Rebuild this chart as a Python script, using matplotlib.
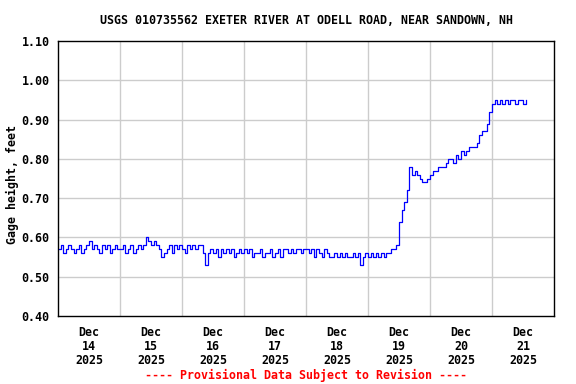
import matplotlib
matplotlib.use("Agg")
import matplotlib.pyplot as plt
import datetime as dt

# hourly gage height readings (feet), starting Dec 14 00:00
dec14 = [0.57, 0.58, 0.56, 0.57, 0.58, 0.57, 0.56, 0.57, 0.58, 0.56, 0.57, 0.58,
         0.59, 0.57, 0.58, 0.57, 0.56, 0.58, 0.57, 0.58, 0.56, 0.57, 0.58, 0.57]
dec15 = [0.57, 0.58, 0.56, 0.57, 0.58, 0.56, 0.57, 0.58, 0.57, 0.58, 0.60, 0.59,
         0.58, 0.59, 0.58, 0.57, 0.55, 0.56, 0.57, 0.58, 0.56, 0.58, 0.57, 0.58]
dec16 = [0.57, 0.56, 0.58, 0.57, 0.58, 0.57, 0.58, 0.58, 0.56, 0.53, 0.56, 0.57,
         0.56, 0.57, 0.55, 0.57, 0.56, 0.57, 0.56, 0.57, 0.55, 0.56, 0.57, 0.56]
dec17 = [0.57, 0.56, 0.57, 0.55, 0.56, 0.56, 0.57, 0.55, 0.56, 0.56, 0.57, 0.55,
         0.56, 0.57, 0.55, 0.57, 0.57, 0.56, 0.57, 0.56, 0.57, 0.57, 0.56, 0.57]
dec18 = [0.57, 0.56, 0.57, 0.55, 0.57, 0.56, 0.55, 0.57, 0.56, 0.55, 0.55, 0.56,
         0.55, 0.56, 0.55, 0.56, 0.55, 0.55, 0.56, 0.55, 0.56, 0.53, 0.55, 0.56]
dec19 = [0.55, 0.56, 0.55, 0.56, 0.55, 0.56, 0.55, 0.56, 0.56, 0.57, 0.57, 0.58,
         0.64, 0.67, 0.69, 0.72, 0.78, 0.76, 0.77, 0.76, 0.75, 0.74, 0.74, 0.75]
dec20 = [0.76, 0.77, 0.77, 0.78, 0.78, 0.78, 0.79, 0.80, 0.80, 0.79, 0.81, 0.80,
         0.82, 0.81, 0.82, 0.83, 0.83, 0.83, 0.84, 0.86, 0.87, 0.87, 0.89, 0.92]
dec21 = [0.94, 0.95, 0.94, 0.95, 0.94, 0.95, 0.94, 0.95, 0.95, 0.94, 0.95, 0.95,
         0.94, 0.95]

gage = dec14 + dec15 + dec16 + dec17 + dec18 + dec19 + dec20 + dec21
start = dt.datetime(2025, 12, 14)
times = [start + dt.timedelta(hours=h) for h in range(len(gage))]

title = "USGS 010735562 EXETER RIVER AT ODELL ROAD, NEAR SANDOWN, NH"
days = [14, 15, 16, 17, 18, 19, 20, 21]
yticks = [0.40, 0.50, 0.60, 0.70, 0.80, 0.90, 1.00, 1.10]

font = "DejaVu Sans Mono"
fs = 8.4

fig = plt.figure(figsize=(5.76, 3.84), dpi=100)
ax = fig.add_axes([58 / 576, 1 - 316 / 384, 496 / 576, 275 / 384])

ax.plot(times, gage, color="#0000ff", linewidth=0.9, drawstyle="steps-post")

ax.set_xlim(start, start + dt.timedelta(days=8))
ax.set_ylim(0.40, 1.10)

# grid at midnight, labels at noon
midnights = [start + dt.timedelta(days=i) for i in range(1, 8)]
for m in midnights:
    ax.axvline(m, color="#cccccc", linewidth=1, zorder=0)
for y in yticks[1:-1]:
    ax.axhline(y, color="#cccccc", linewidth=1, zorder=0)

noons = [start + dt.timedelta(days=i, hours=12) for i in range(8)]
ax.set_xticks(noons)
ax.set_xticklabels([f"Dec\n{d}\n2025" for d in days], fontfamily=font,
                   fontweight="bold", fontsize=fs, linespacing=1.1)
ax.set_yticks(yticks)
ax.set_yticklabels([f"{v:.2f}" for v in yticks], fontfamily=font,
                   fontweight="bold", fontsize=fs)
ax.tick_params(axis="both", length=0)
ax.tick_params(axis="x", pad=7)
ax.tick_params(axis="y", pad=6)

for s in ax.spines.values():
    s.set_linewidth(1)
    s.set_color("black")

fig.text(0.0208, (1 - 184 / 384), "Gage height, feet", rotation=90, ha="center",
         va="center", fontfamily=font, fontweight="bold", fontsize=fs)
fig.text(306 / 576, 1 - 20 / 384, title, ha="center", va="center",
         fontfamily=font, fontweight="bold", fontsize=fs)
fig.text(306 / 576, 1 - 375 / 384, "---- Provisional Data Subject to Revision ----",
         ha="center", va="center", color="red", fontfamily=font,
         fontweight="bold", fontsize=fs)

fig.savefig("out.png", dpi=100)
